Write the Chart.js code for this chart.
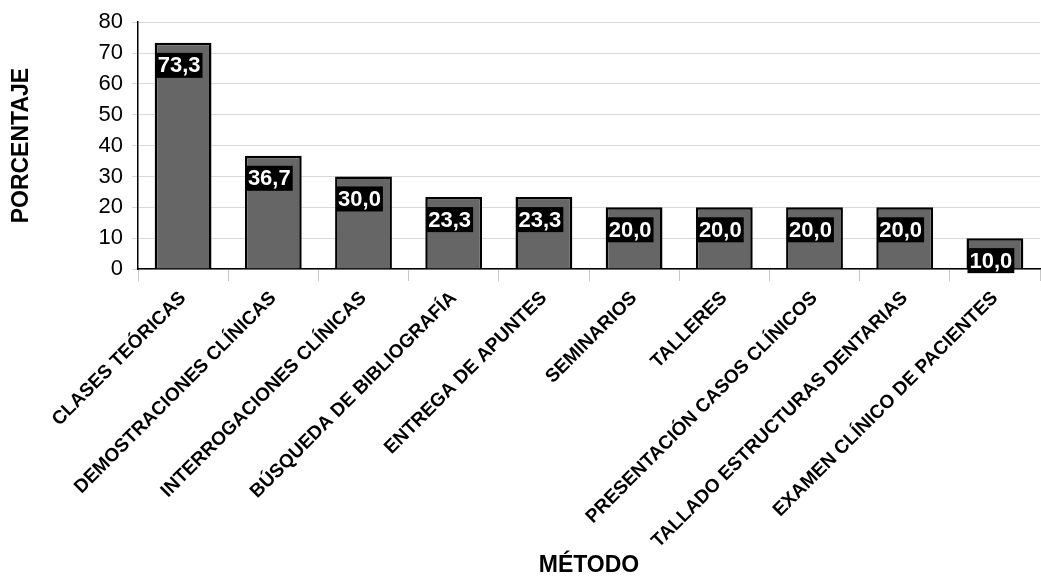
<!DOCTYPE html>
<html>
<head>
<meta charset="utf-8">
<script src="https://cdn.jsdelivr.net/npm/chart.js@4/dist/chart.umd.min.js"></script>
<style>
  html, body { margin: 0; padding: 0; background: #fff; }
  #wrap { width: 1041px; height: 577px; }
</style>
</head>
<body>
<div id="wrap"><canvas id="chart" width="1041" height="577"></canvas></div>
<script>
"use strict";

var metodos = [
    "CLASES TEÓRICAS",
    "DEMOSTRACIONES CLÍNICAS",
    "INTERROGACIONES CLÍNICAS",
    "BÚSQUEDA DE BIBLIOGRAFÍA",
    "ENTREGA DE APUNTES",
    "SEMINARIOS",
    "TALLERES",
    "PRESENTACIÓN CASOS CLÍNICOS",
    "TALLADO ESTRUCTURAS DENTARIAS",
    "EXAMEN CLÍNICO DE PACIENTES"
];
var porcentaje = [73.3, 36.7, 30.0, 23.3, 23.3, 20.0, 20.0, 20.0, 20.0, 10.0];
var yTicks = [0, 10, 20, 30, 40, 50, 60, 70, 80];

var FONT = "'Liberation Sans', Arial, sans-serif";

// etiquetas de valor: caja negra con texto blanco
var valueLabels = {
    id: "valueLabels",
    afterDatasetsDraw: function (chart) {
        var ctx = chart.ctx;
        var meta = chart.getDatasetMeta(0);
        ctx.save();
        ctx.font = "bold 22px " + FONT;
        ctx.textBaseline = "middle";
        ctx.textAlign = "left";
        meta.data.forEach(function (bar, i) {
            var txt = porcentaje[i].toFixed(1).replace(".", ",");
            var w = ctx.measureText(txt).width + 4;
            var h = 25;
            var left = bar.x - bar.width / 2 + 1;
            var top = bar.y + 10;
            ctx.fillStyle = "#000";
            ctx.fillRect(left, top, w, h);
            ctx.fillStyle = "#fff";
            ctx.fillText(txt, left + 2, top + h / 2 + 1);
        });
        ctx.restore();
    }
};

var ctx1 = document.getElementById("chart").getContext("2d");
var myChart = new Chart(ctx1, {
    type: "bar",
    data: {
        labels: metodos,
        datasets: [{
            data: porcentaje,
            backgroundColor: "#666666",
            borderColor: "#000000",
            borderWidth: 2.5,
            barPercentage: 0.63,
            categoryPercentage: 1
        }]
    },
    options: {
        responsive: false,
        animation: false,
        layout: { padding: { top: 22, right: 1, left: 0, bottom: 0 } },
        plugins: {
            legend: { display: false },
            tooltip: { enabled: false }
        },
        scales: {
            x: {
                afterFit: function (scale) { scale.height = 308; },
                grid: {
                    offset: true,
                    drawOnChartArea: false,
                    drawTicks: true,
                    tickLength: 12,
                    tickColor: "#c8c8c8"
                },
                border: { color: "#000", width: 1.5 },
                ticks: {
                    autoSkip: false,
                    maxRotation: 45,
                    minRotation: 45,
                    padding: 6,
                    color: "#000",
                    font: { family: FONT, size: 19, weight: "bold" }
                },
                title: {
                    display: true,
                    text: "MÉTODO",
                    color: "#000",
                    padding: { top: 0, bottom: 0 },
                    font: { family: FONT, size: 23, weight: "bold", lineHeight: 0.95 }
                }
            },
            y: {
                min: 0,
                max: 80,
                afterFit: function (scale) { scale.width = 138; },
                afterBuildTicks: function (scale) {
                    scale.ticks = yTicks.map(function (v) { return { value: v }; });
                },
                grid: { color: "#d9d9d9", drawTicks: true, tickLength: 6 },
                border: { color: "#000", width: 1.5 },
                ticks: {
                    padding: 9,
                    color: "#000",
                    font: { family: FONT, size: 22 }
                },
                title: {
                    display: true,
                    text: "PORCENTAJE",
                    color: "#000",
                    padding: { top: 8, bottom: 0 },
                    font: { family: FONT, size: 23, weight: "bold", lineHeight: 1.2 }
                }
            }
        }
    },
    plugins: [valueLabels]
});
</script>
</body>
</html>
